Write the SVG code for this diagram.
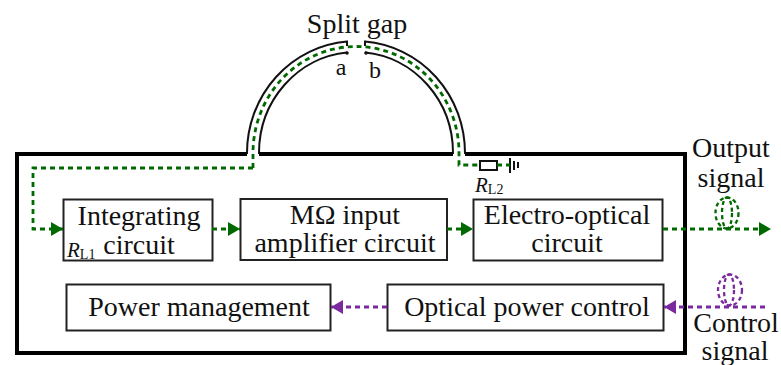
<svg xmlns="http://www.w3.org/2000/svg" width="781" height="365" viewBox="0 0 781 365">
<style>
text{font-family:"Liberation Serif","Times New Roman",serif;font-size:28px;fill:#111;text-anchor:middle}
.s{font-size:14px}.r{font-style:italic;text-anchor:start;font-size:21px}
.box{fill:#fff;stroke:#222;stroke-width:2}
.g{fill:none;stroke:#006a00;stroke-width:2.800;stroke-dasharray:5 4}
.p{fill:none;stroke:#7a2a9e;stroke-width:2.800;stroke-dasharray:5 4}
.c{stroke-dasharray:4 3;stroke-width:2.300}
.t{fill:none;stroke:#111;stroke-width:2}
</style>
<defs>
<marker id="ag" markerUnits="userSpaceOnUse" markerWidth="13" markerHeight="14" refX="12" refY="7" orient="auto"><path d="M0 0L12 7L0 14Z" fill="#006a00"/></marker>
<marker id="ap" markerUnits="userSpaceOnUse" markerWidth="13" markerHeight="14" refX="12" refY="7" orient="auto"><path d="M0 0L12 7L0 14Z" fill="#7a2a9e"/></marker>
</defs>
<g id="frame">
<path d="M247 154H17V353H685V154H465" fill="none" stroke="#000" stroke-width="4"/>
<path d="M259 154V153A97 101 0 0 1 347 52.500H347" class="t"/>
<path d="M247 154V153A109 112 0 0 1 347 41.500V46" class="t"/>
<path d="M453 154V153A97 101 0 0 0 365 52.500" class="t"/>
<path d="M465 154V153A109 112 0 0 0 365 41.500V46" class="t"/>
<path d="M259 154H453" stroke="#000" stroke-width="4"/>
<circle cx="347" cy="53" r="1.800" fill="#111"/><circle cx="366" cy="53" r="1.800" fill="#111"/>
<text x="357" y="33">Split gap</text>
<text x="341" y="75" style="font-size:24px">a</text>
<text x="375" y="78" style="font-size:24px">b</text>
</g>
<g id="load">
<rect x="480" y="161" width="17" height="9" fill="#fff" stroke="#111" stroke-width="2"/>
<path d="M510 158V173M514 161V170M518 162V168" class="t"/>
<text class="r" x="475" y="192">R<tspan class="s" font-style="normal" dy="2">L2</tspan></text>
</g>
<g id="integrating"><rect class="box" x="63.500" y="199.500" width="149" height="61"/>
<text x="139" y="225">Integrating</text><text x="139" y="254">circuit</text>
<text class="r" x="67" y="257">R<tspan class="s" font-style="normal" dy="2">L1</tspan></text></g>
<g id="amplifier"><rect class="box" x="240.500" y="199" width="206.500" height="61"/>
<text x="345" y="224">MΩ input</text><text x="345" y="252">amplifier circuit</text></g>
<g id="electro"><rect class="box" x="473.500" y="199.500" width="189" height="61"/>
<text x="567" y="224">Electro-optical</text><text x="567" y="252">circuit</text></g>
<g id="power"><rect class="box" x="66.500" y="284.500" width="264" height="46"/>
<text x="199" y="316">Power management</text></g>
<g id="optical"><rect class="box" x="387.500" y="284.500" width="276" height="46"/>
<text x="527" y="316">Optical power control</text></g>
<g id="connectors">
<path class="g" d="M253 168V153A103 106.500 0 0 1 459 153V165H480M497 165H510"/>
<path class="g" d="M253 168H33V229H63" marker-end="url(#ag)"/>
<path class="g" d="M212 229H240" marker-end="url(#ag)"/>
<path class="g" d="M447 229H473" marker-end="url(#ag)"/>
<path class="g" d="M663 229H771" marker-end="url(#ag)"/>
<path class="p" d="M387 307H331" marker-end="url(#ap)"/>
<path class="p" d="M765 307H664" marker-end="url(#ap)"/>
<ellipse class="g c" cx="727" cy="213" rx="11.500" ry="15.500"/>
<ellipse class="g c" cx="727" cy="213" rx="5" ry="15.500"/>
<ellipse class="p c" cx="730" cy="290" rx="12" ry="15.500"/>
<ellipse class="p c" cx="729" cy="290" rx="5" ry="15.500"/>
</g>
<g id="labels">
<text x="731" y="157">Output</text><text x="731" y="187">signal</text>
<text x="736" y="332">Control</text><text x="735" y="360">signal</text>
</g>
</svg>
